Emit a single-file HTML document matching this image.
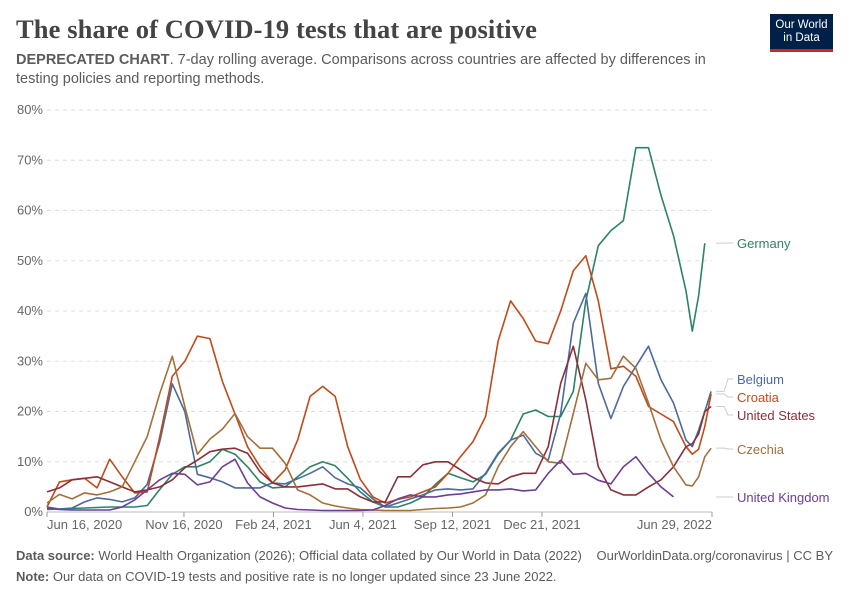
<!DOCTYPE html>
<html><head><meta charset="utf-8">
<style>
body{margin:0;background:#fff;font-family:"Liberation Sans",sans-serif;}
#wrap{position:relative;width:850px;height:600px;overflow:hidden;}
.t{position:absolute;white-space:nowrap;}
</style></head><body>
<div id="wrap">
<div class="t" style="left:16px;top:14px;font-family:'Liberation Serif',serif;font-size:26.5px;color:#444;font-weight:bold;letter-spacing:0.1px">The share of COVID-19 tests that are positive</div>
<div class="t" style="left:16px;top:51px;font-size:14.5px;color:#5b5b5b;line-height:19px;white-space:normal;width:720px"><b>DEPRECATED CHART</b>. 7-day rolling average. Comparisons across countries are affected by differences in testing policies and reporting methods.</div>
<div style="position:absolute;left:770px;top:14px;width:63px;height:38px;background:#002147;border-bottom:3px solid #ce261e;box-sizing:border-box;color:#fff;font-size:11.5px;line-height:13px;text-align:center;padding-top:5px">Our World<br>in Data</div>
<svg id="chart" width="850" height="600" style="position:absolute;left:0;top:0"></svg>
<div class="t" style="left:16px;top:548px;font-size:13px;color:#5b5b5b"><b>Data source:</b> World Health Organization (2026); Official data collated by Our World in Data (2022)</div>
<div class="t" style="right:17px;top:548px;font-size:13px;color:#5b5b5b">OurWorldinData.org/coronavirus | CC BY</div>
<div class="t" style="left:16px;top:569px;font-size:13px;color:#5b5b5b"><b>Note:</b> Our data on COVID-19 tests and positive rate is no longer updated since 23 June 2022.</div>
</div>
<script>
const days = [0,14,28,42,56,70,84,98,112,126,140,154,168,182,196,210,224,238,252,266,280,294,308,322,336,350,364,378,392,406,420,434,448,462,476,490,504,518,532,546,560,574,588,602,616,630,644,658,672,686,700,714,721,728,735,742];
const germany = [0.5,0.6,0.7,0.8,0.9,1,1,1,1.3,4.5,7.5,9,9,10,12.5,11.5,9,6,4.8,5,7,9,10,9.2,6.7,4,2,1,1,1.8,3,5.5,7.7,6.8,6,7.5,11.5,14.3,19.5,20.3,19,19,24,42,53,56,58,72.5,72.5,63,55,44,36,43,53.5,null];
const belgium = [1,0.6,0.8,2,2.8,2.5,2,2.8,5.5,14,25.5,20,7.5,6.8,6,4.8,4.8,4.8,5.8,5.6,6.6,7.7,9,6.8,5.6,4.8,2.6,1,1.8,2.6,3.4,4.4,4.6,4.4,4.6,7.7,11.7,14.3,15.3,11.7,10.3,19.6,37.6,43.5,25.6,18.6,25,29,33,26.3,21.7,14.3,13,16.3,20,24];
const croatia = [1,6,6.4,6.7,4.8,10.5,7,3.8,4,15,27,30,35,34.5,26,19.5,13,9,5.8,8.4,14.3,23,25,23,13,6.5,3,1.8,2.5,3,4,5,7.7,11,14,19,34,42,38.5,34,33.5,40,48,51,42,28.5,29,27,21,19.5,18,13,11.5,12.5,17,23.5];
const unitedStates = [4,4.8,6.4,6.7,7,6,5,4,4.4,5,6.4,8.8,10.3,12,12.5,12.7,11.7,8,5.8,5,5,5.3,5.6,4.6,4.6,3,2,2,7,7,9.4,10,10,8.4,6.8,5.8,5.6,7,7.7,7.7,13,25.6,33,22.3,9,4.4,3.4,3.4,5,6.4,9,13,13.6,15.5,20,21];
const czechia = [1.8,3.5,2.6,3.8,3.4,4,5,10,15,23.6,31,21,11.5,14.5,16.5,19.6,15,12.7,12.7,9.7,4.4,3.4,1.8,1.2,0.8,0.5,0.4,0.3,0.3,0.3,0.5,0.7,0.8,1,1.8,3.4,9,13,16,13,10,9.7,19.6,29.6,26.3,26.6,31,28.6,21.7,14.3,9,5.4,5.2,7,11,12.7];
const unitedKingdom = [0.8,0.5,0.4,0.4,0.4,0.4,1,2.4,4.4,6.4,7.7,7.5,5.4,6,9,10.5,5.8,3,1.8,0.8,0.5,0.4,0.3,0.3,0.3,0.3,0.4,1.3,2.6,3.4,3,3,3.4,3.6,4,4.4,4.4,4.6,4.2,4.4,7.7,10.3,7.5,7.7,6.3,5.6,9,11,7.7,5,3,null,null,null,null,null];
const yTicks = [0,10,20,30,40,50,60,70,80];
const xTickDays = [0,153,253,353,453,553,743];
const xTickLabels = ["Jun 16, 2020","Nov 16, 2020","Feb 24, 2021","Jun 4, 2021","Sep 12, 2021","Dec 21, 2021","Jun 29, 2022"];
const seriesNames = ["Germany","Belgium","Croatia","United States","Czechia","United Kingdom"];
const seriesData = [germany,belgium,croatia,unitedStates,czechia,unitedKingdom];
const colors = ["#2c8465","#4c6a9c","#be4b1b","#883039","#a2703c","#6d3e91"];
const labelY = [243,379,397,415,449,497];

const NS="http://www.w3.org/2000/svg";
const svg=document.getElementById('chart');
const X0=47,X1=712,Y0=512,Y1=110;
const xs=d=>X0+(d/743)*(X1-X0);
const ys=v=>Y0-(v/80)*(Y0-Y1);
function mk(tag,attrs){const e=document.createElementNS(NS,tag);for(const k in attrs)e.setAttribute(k,attrs[k]);svg.appendChild(e);return e;}

yTicks.forEach(v=>{
  const g=mk('line',{x1:X0,x2:X1,y1:ys(v),y2:ys(v),stroke:v===0?'#bbb':'#ddd','stroke-dasharray':v===0?'':'4,4'});
  
  
  const t=mk('text',{x:43,y:ys(v)+4,'text-anchor':'end','font-size':13,fill:'#666','font-family':'Liberation Sans, sans-serif'});
  t.textContent=v+'%';
  
  
});
xTickDays.forEach((d,i)=>{
  const x=xs(d);
  const tk=mk('line',{x1:x,x2:x,y1:Y0,y2:Y0+5,stroke:'#999'});
  
  
  const anchor=i===0?'start':(i===xTickDays.length-1?'end':'middle');
  const t=mk('text',{x:i===0?X0:(i===xTickDays.length-1?X1:x),y:Y0+17,'text-anchor':anchor,'font-size':13,fill:'#666','font-family':'Liberation Sans, sans-serif'});
  t.textContent=xTickLabels[i];
  
  
});
seriesData.forEach((arr,si)=>{
  let d='',pen=false,lastX=0,lastY=0;
  arr.forEach((v,i)=>{
    if(v===null){pen=false;return;}
    const x=xs(days[i]),y=ys(v);
    d+=(pen?'L':'M')+x.toFixed(1)+','+y.toFixed(1);
    pen=true;lastX=x;lastY=y;
  });
  const p=mk('path',{d:d,fill:'none',stroke:colors[si],'stroke-width':1.6,'stroke-linejoin':'round'});
  
  
  if(si!==5){
    const c=mk('path',{d:`M716,${lastY}L724,${lastY}L728,${labelY[si]}L733,${labelY[si]}`,fill:'none',stroke:'#ccc','stroke-width':1});
    
    
  } else {
    const c=mk('path',{d:`M716,${labelY[si]}L733,${labelY[si]}`,fill:'none',stroke:'#ccc','stroke-width':1});
    
    
  }
  const t=mk('text',{x:737,y:labelY[si]+5,'font-size':13,fill:colors[si],'font-family':'Liberation Sans, sans-serif'});
  t.textContent=seriesNames[si];
  
  
});
</script>
</body></html>
